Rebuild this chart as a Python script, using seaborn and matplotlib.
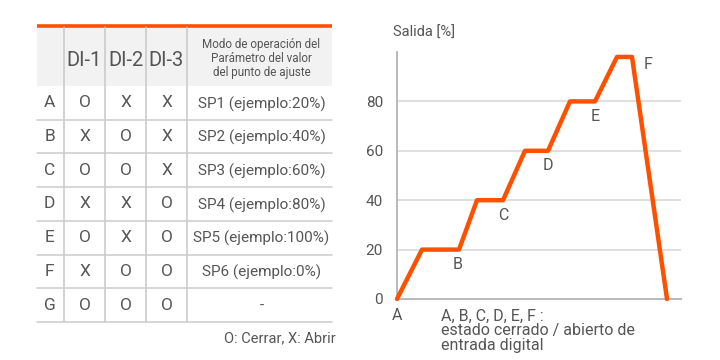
import matplotlib.pyplot as plt
import seaborn as sns
import pandas as pd

# table data
row_names = ["A", "B", "C", "D", "E", "F", "G"]
di1 = ["O", "X", "O", "X", "O", "X", "O"]
di2 = ["X", "O", "O", "X", "X", "O", "O"]
di3 = ["X", "X", "X", "O", "O", "O", "O"]
modo = ["SP1 (ejemplo:20%)", "SP2 (ejemplo:40%)", "SP3 (ejemplo:60%)",
        "SP4 (ejemplo:80%)", "SP5 (ejemplo:100%)", "SP6 (ejemplo:0%)", "-"]
headers = ["", "DI-1", "DI-2", "DI-3",
           "Modo de operación del\nParámetro del valor\ndel punto de ajuste"]

# chart data
tiempo = [0, 25, 62, 80, 106, 128, 151, 173, 198, 220, 235, 270]
salida = [0, 20, 20, 40, 40, 60, 60, 80, 80, 98, 98, 0]
etiquetas = ["A", "B", "C", "D", "E", "F"]
etiq_x = [0, 61, 106, 151, 198, 251]
etiq_y = [-6.5, 14, 34, 54, 74, 95]
yticks = [0, 20, 40, 60, 80]

ORANGE = "#ff5000"
TXT = "#555555"
GRID = "#d9d9d9"

sns.set_theme(style="white")
plt.rcParams["font.family"] = ["Roboto", "DejaVu Sans"]

fig = plt.figure(figsize=(7.2, 3.6), dpi=100)

# ---- table (pixel coordinates of the figure) ----
axt = fig.add_axes([0, 0, 1, 1])
axt.set_xlim(0, 720)
axt.set_ylim(360, 0)
axt.axis("off")

col_edges = [37, 64, 105, 146, 187, 332]
head_top, head_bot = 27, 86
row_h = 33.7

axt.add_patch(plt.Rectangle((col_edges[0], head_top), col_edges[-1] - col_edges[0],
                            head_bot - head_top, color="#f2f2f2", lw=0))
axt.plot([col_edges[0], col_edges[-1]], [head_top - 1, head_top - 1], color=ORANGE, lw=2.6,
         solid_capstyle="butt")
bottom = head_bot + row_h * len(row_names)
for x in col_edges[1:-1]:
    axt.plot([x, x], [head_top, bottom], color="#c8c8c8", lw=1.1)
for i in range(len(row_names)):
    yb = head_bot + row_h * (i + 1)
    axt.plot([col_edges[0], col_edges[-1]], [yb, yb], color="#cccccc", lw=1.1)

centers = [(col_edges[j] + col_edges[j + 1]) / 2 for j in range(len(col_edges) - 1)]
for j, h in enumerate(headers):
    if j == 4:
        axt.text(centers[j] + 2, (head_top + head_bot) / 2 + 2, h, ha="center", va="center",
                 fontsize=8.4, color=TXT, linespacing=1.12)
    else:
        axt.text(centers[j], (head_top + head_bot) / 2 + 4, h, ha="center", va="center",
                 fontsize=14.5, color=TXT)

for i in range(len(row_names)):
    yc = head_bot + row_h * (i + 0.5)
    vals = [row_names[i], di1[i], di2[i], di3[i]]
    for j, v in enumerate(vals):
        axt.text(centers[j] - (1 if j == 0 else 0), yc, v, ha="center", va="center",
                 fontsize=12.5, color=TXT)
    axt.text(centers[4] + 2, yc + 1, modo[i], ha="center", va="center", fontsize=11, color=TXT)

axt.text(336, 338, "O: Cerrar, X: Abrir", ha="right", va="center", fontsize=10.5, color=TXT)

# ---- chart ----
ax = fig.add_axes([397 / 720, 1 - 299 / 360, (681 - 397) / 720, (299 - 52) / 360])
df = pd.DataFrame({"tiempo": tiempo, "salida": salida})
sns.lineplot(data=df, x="tiempo", y="salida", sort=False, color=ORANGE, lw=3.2, ax=ax,
             clip_on=False, zorder=5)
ax.set_xlim(0, 284)
ax.set_ylim(0, 100)
ax.set_yticks(yticks)
ax.set_yticklabels([str(v) for v in yticks], fontsize=11, color=TXT)
ax.set_xticks([])
ax.set_xlabel("")
ax.set_ylabel("")
ax.tick_params(axis="y", length=0, pad=10)
for v in yticks[1:]:
    ax.axhline(v, color=GRID, lw=1.2, zorder=1)
for s in ["top", "right"]:
    ax.spines[s].set_visible(False)
for s in ["left", "bottom"]:
    ax.spines[s].set_color("#b3b3b3")
    ax.spines[s].set_linewidth(1.3)

for lab, x, y in zip(etiquetas, etiq_x, etiq_y):
    ax.text(x, y, lab, ha="center", va="center", fontsize=11.5, color=TXT, clip_on=False)

fig.text(393 / 720, 1 - 33 / 360, "Salida [%]", ha="left", va="center", fontsize=10.5, color=TXT)
fig.text(441 / 720, 1 - 331 / 360, "A, B, C, D, E, F :\nestado cerrado / abierto de\nentrada digital",
         ha="left", va="center", fontsize=11.5, color=TXT, linespacing=0.95)

fig.savefig("out.png", dpi=100)
